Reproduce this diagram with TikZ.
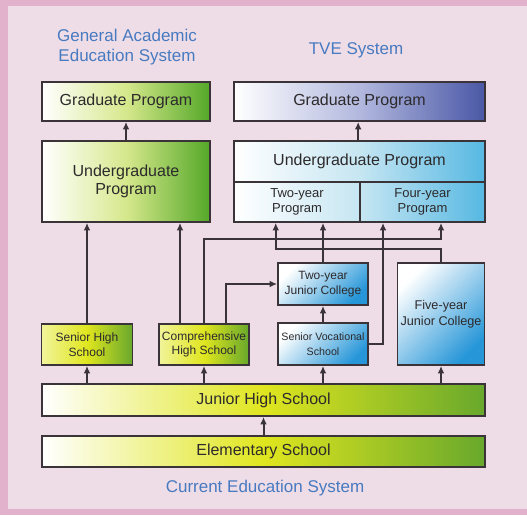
\documentclass[tikz,border=0pt]{standalone}
\usepackage{fontspec}
\setmainfont{Liberation Sans}
\usetikzlibrary{arrows.meta}

\definecolor{pinkDark}{RGB}{226,178,204}
\definecolor{pinkLight}{RGB}{238,221,231}
\definecolor{headBlue}{RGB}{72,122,192}
\definecolor{boxLine}{RGB}{58,52,56}
\definecolor{txtGray}{RGB}{45,42,44}
\definecolor{grnDark}{RGB}{84,168,40}
\definecolor{grnMid}{RGB}{214,232,140}
\definecolor{yelMid}{RGB}{224,230,30}
\definecolor{yelGrn}{RGB}{104,168,44}
\definecolor{tveBlue}{RGB}{74,88,166}
\definecolor{tveMid}{RGB}{178,184,222}
\definecolor{skyBlue}{RGB}{86,184,226}
\definecolor{skyPale}{RGB}{198,230,242}
\definecolor{jcBlue}{RGB}{38,150,216}

\tikzset{every picture/.style={line width=0.75pt}}
\tikzset{
  box/.style={draw=boxLine, line width=1.4pt, rectangle, inner sep=1pt, align=center, text=txtGray},
  bigtxt/.style={font=\fontsize{12}{14}\selectfont},
  smalltxt/.style={font=\fontsize{9}{11}\selectfont},
  greenbox/.style={box, left color=white, right color=grnDark, middle color=grnMid},
  yellowbox/.style={box, left color=white!55!yelMid, right color=yelGrn, middle color=yelMid},
  groundbox/.style={box, left color=white, right color=yelGrn, middle color=yelMid},
  jcbox/.style={box, left color=white, right color=jcBlue, shading angle=45},
  heading/.style={text=headBlue, align=center, font=\fontsize{12.75}{15}\selectfont},
  arr/.style={draw=boxLine, line width=1.5pt, -{Latex[length=5.5pt,width=5pt]}}
}

\begin{document}
\begin{tikzpicture}[x=0.75pt,y=0.75pt,yscale=-1,xscale=1]
    %Background frame
    \fill[pinkDark] (0,0) rectangle (527,515);
    \fill[pinkLight] (8,6) rectangle (527,509);
    \useasboundingbox (0,0) rectangle (527,515);

    % Text Node
    \node[heading] (hGen) at (127,47) {General Academic\\Education System};
    \node[heading] (hTve) at (356,50) {TVE System};
    \node[heading] (hCur) at (265,488) {Current Education System};

    %General academic column
    \node[greenbox, bigtxt, minimum width=126pt, minimum height=29.25pt] (gradA) at (126,101.5) {Graduate Program};
    \node[greenbox, bigtxt, minimum width=126pt, minimum height=60.75pt] (ugA) at (126,181.5) {Undergraduate\\Program};
    \node[yellowbox, smalltxt, minimum width=68.25pt, minimum height=30.75pt] (shs) at (87,344.5) {Senior High\\School};
    \node[yellowbox, smalltxt, minimum width=67.5pt, minimum height=30.75pt] (chs) at (204,344.5) {Comprehensive\\High School};

    %TVE column
    \node[box, bigtxt, left color=white, right color=tveBlue, middle color=tveMid, minimum width=188.25pt, minimum height=29.25pt] (gradT) at (359.5,101.5) {Graduate Program};
    \node[box, bigtxt, left color=white, right color=skyBlue, middle color=skyPale, minimum width=188.25pt, minimum height=30.75pt] (ugT) at (359.5,161.5) {Undergraduate Program};
    \node[box, font=\fontsize{9.75}{11.5}\selectfont, left color=white, right color=skyPale, minimum width=94.5pt, minimum height=30pt] (twoP) at (297,202) {Two-year\\Program};
    \node[box, font=\fontsize{9.75}{11.5}\selectfont, left color=skyPale, right color=skyBlue, minimum width=93.75pt, minimum height=30pt] (fourP) at (422.5,202) {Four-year\\Program};
    \node[jcbox, smalltxt, minimum width=67.5pt, minimum height=31.5pt] (tjc) at (323,284) {Two-year\\Junior College};
    \node[jcbox, font=\fontsize{8}{11}\selectfont, minimum width=67.5pt, minimum height=31.5pt] (svs) at (323,344) {Senior Vocational\\School};
    \node[jcbox, font=\fontsize{9.5}{12}\selectfont, minimum width=65.25pt, minimum height=76.5pt] (fjc) at (441,314) {Five-year\\Junior College};

    %Common base
    \node[groundbox, bigtxt, minimum width=332.25pt, minimum height=24pt] (jhs) at (263.5,400) {Junior High School};
    \node[groundbox, bigtxt, minimum width=332.25pt, minimum height=23.25pt] (els) at (263.5,451.5) {Elementary School};

    %Straight Lines
    \draw[arr] (els) -- (jhs);
    \draw[arr] (jhs.north -| shs.south) -- (shs.south);
    \draw[arr] (jhs.north -| chs.south) -- (chs.south);
    \draw[arr] (jhs.north -| svs.south) -- (svs.south);
    \draw[arr] (jhs.north -| fjc.south) -- (fjc.south);
    \draw[arr] (svs) -- (tjc);
    \draw[arr] (shs.north) -- (shs.north |- ugA.south);
    \draw[arr] ([xshift=-18pt]chs.north) -- ([xshift=-18pt]chs.north |- ugA.south);
    \draw[arr] (ugA) -- (gradA);
    \draw[arr] ([xshift=-1pt]ugT.north) -- ([xshift=-1pt]gradT.south);
    \draw[arr] (tjc.north) -- (tjc.north |- twoP.south);

    %Bent Lines
    \coordinate (busA) at (0,239);
    \coordinate (busB) at (0,249);
    \draw[arr] (chs.north) |- (busA -| fjc.north) -- (fjc.north |- fourP.south);
    \draw[arr] ([xshift=16.5pt]chs.north) |- (tjc.west);
    \draw[arr] (fjc.north) |- ([xshift=-1pt]busB -| tjc.west) -- ([xshift=-1pt]tjc.west |- twoP.south);
    \draw[arr] (svs.east) -| ([xshift=-29.6pt]fourP.south);

\end{tikzpicture}
\end{document}
